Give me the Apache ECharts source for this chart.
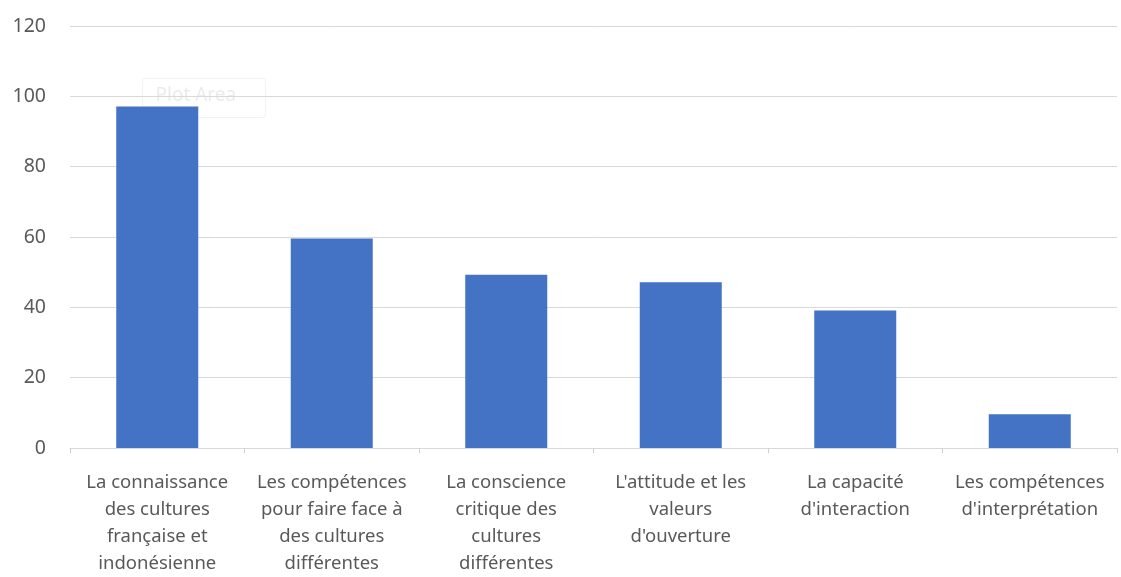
<!DOCTYPE html>
<html>
<head>
<meta charset="utf-8">
<script src="https://cdn.jsdelivr.net/npm/echarts@6/dist/echarts.min.js"></script>
<style>
html,body{margin:0;padding:0;background:#fff;}
#chart{width:1121px;height:577px;}
</style>
</head>
<body>
<div id="chart"></div>
<script>
const categories = [
  "La connaissance\ndes cultures\nfrançaise et\nindonésienne",
  "Les compétences\npour faire face à\ndes cultures\ndifférentes",
  "La conscience\ncritique des\ncultures\ndifférentes",
  "L'attitude et les\nvaleurs\nd'ouverture",
  "La capacité\nd'interaction",
  "Les compétences\nd'interprétation"
];
const values = [97.1, 59.6, 49.3, 47.1, 39.1, 9.6];
const yTicks = { min: 0, max: 120, interval: 20 };

const chart = echarts.init(document.getElementById('chart'));
chart.setOption({
  animation: false,
  backgroundColor: '#ffffff',
  textStyle: { fontFamily: 'Noto Sans' },
  grid: { left: 70, right: 4, top: 26, bottom: 128, containLabel: false },
  xAxis: {
    type: 'category',
    data: categories,
    axisLine: { lineStyle: { color: '#d9d9d9', width: 1 } },
    axisTick: { show: true, alignWithLabel: false, length: 5, lineStyle: { color: '#d0d0d0' } },
    axisLabel: { color: '#595959', fontSize: 18.5, lineHeight: 27, margin: 21, interval: 0, fontFamily: 'Noto Sans' }
  },
  yAxis: {
    type: 'value',
    min: yTicks.min, max: yTicks.max, interval: yTicks.interval,
    axisLine: { show: false },
    axisTick: { show: false },
    splitLine: { lineStyle: { color: '#d9d9d9', width: 1 } },
    axisLabel: { color: '#595959', fontSize: 19.5, margin: 24, fontFamily: 'Noto Sans' }
  },
  series: [{
    type: 'bar',
    data: values,
    barCategoryGap: '53%',
    itemStyle: { color: '#4472C4' }
  }],
  graphic: [{
    type: 'group',
    left: 142, top: 78,
    children: [
      { type: 'rect', shape: { x: 0, y: 0, width: 123, height: 39, r: 3 },
        style: { fill: 'rgba(255,255,255,0.6)', stroke: '#f2f2f2', lineWidth: 1 } },
      { type: 'text', style: { x: 13, y: 8, text: 'Plot Area', fill: '#ebebeb', fontSize: 19, fontFamily: 'Noto Sans' } }
    ]
  }]
});
</script>
</body>
</html>
